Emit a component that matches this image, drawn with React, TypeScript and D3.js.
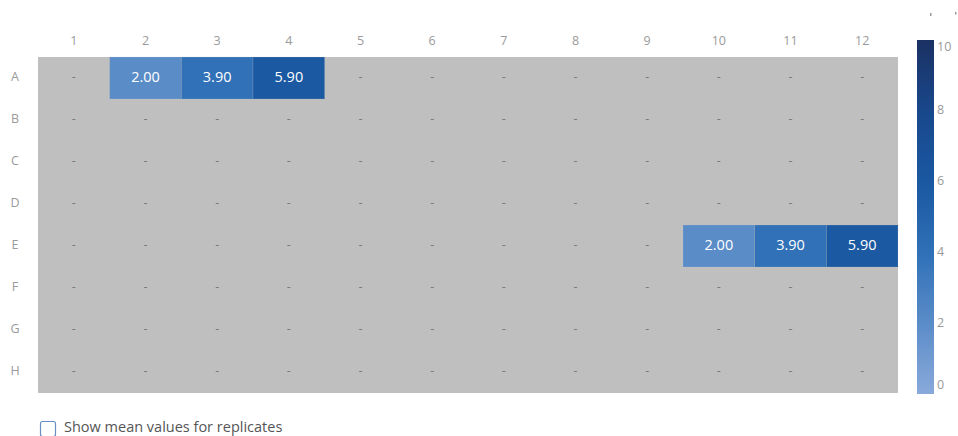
import React from "react";
import * as d3 from "d3";

const rows = ["A", "B", "C", "D", "E", "F", "G", "H"];
const cols = ["1", "2", "3", "4", "5", "6", "7", "8", "9", "10", "11", "12"];
// filled wells: [row, col, value]
const wellRows = ["A", "A", "A", "E", "E", "E"];
const wellCols = ["2", "3", "4", "10", "11", "12"];
const wellValues = [2.0, 3.9, 5.9, 2.0, 3.9, 5.9];
const legendTicks = [0, 2, 4, 6, 8, 10];
const colorStops = [0, 2, 4, 6, 8, 10];
const colorRange = ["#89a9da", "#5a8cc8", "#2f70b6", "#1a58a1", "#18478b", "#1b3163"];

const W = 958;
const H = 436;
const FONT = "'Open Sans', Lato, sans-serif";

export default function App() {
  const x = d3.scaleBand<string>().domain(cols).range([38, 898]).padding(0);
  const y = d3.scaleBand<string>().domain(rows).range([57, 393]).padding(0);
  const color = d3.scaleLinear<string>().domain(colorStops).range(colorRange);
  const lg = d3.scaleLinear().domain([0, 10]).range([394, 40]);
  const lgX = 917;
  const lgW = 17;

  const wellMap = new Map<string, number>();
  wellRows.forEach((r, i) => wellMap.set(r + wellCols[i], wellValues[i]));

  const gradStops = d3.range(0, 10.01, 0.5);

  return (
    <div style={{ position: "absolute", left: 0, top: 0 }}>
      <svg width={W} height={H} style={{ display: "block", fontFamily: FONT }}>
        <defs>
          <linearGradient id="lg" x1="0" y1="1" x2="0" y2="0">
            {gradStops.map((v) => (
              <stop key={v} offset={v / 10} stopColor={color(v)} />
            ))}
          </linearGradient>
        </defs>
        <rect x={0} y={0} width={W} height={H} fill="#fff" />
        {/* tiny marks top right */}
        <rect x={930} y={13} width={1.5} height={3} fill="#9a9a9a" />
        <rect x={955} y={12} width={1.5} height={2.5} fill="#9a9a9a" />

        {/* background */}
        <rect x={38} y={57} width={860} height={336} fill="#bfbfbf" />

        {/* column labels */}
        {cols.map((c) => (
          <text
            key={c}
            x={x(c)! + x.bandwidth() / 2}
            y={42}
            textAnchor="middle"
            dominantBaseline="middle"
            fontSize={12.5}
            fill="#9a9a9a"
          >
            {c}
          </text>
        ))}
        {/* row labels */}
        {rows.map((r) => (
          <text
            key={r}
            x={15}
            y={y(r)! + y.bandwidth() / 2}
            textAnchor="middle"
            dominantBaseline="middle"
            fontSize={12.5}
            fill="#9a9a9a"
          >
            {r}
          </text>
        ))}

        {/* cells */}
        {rows.map((r) =>
          cols.map((c) => {
            const v = wellMap.get(r + c);
            const cx = x(c)! + x.bandwidth() / 2;
            const cy = y(r)! + y.bandwidth() / 2;
            if (v === undefined) {
              return (
                <text
                  key={r + c}
                  x={cx}
                  y={cy}
                  textAnchor="middle"
                  dominantBaseline="middle"
                  fontSize={12.5}
                  fill="#7a7a7a"
                >
                  -
                </text>
              );
            }
            return (
              <g key={r + c}>
                <rect
                  x={x(c)!}
                  y={y(r)!}
                  width={x.bandwidth()}
                  height={y.bandwidth()}
                  fill={color(v)}
                  stroke="#bfbfbf"
                  strokeWidth={0.5}
                  strokeOpacity={0.4}
                />
                <text
                  x={cx}
                  y={cy}
                  textAnchor="middle"
                  dominantBaseline="middle"
                  fontSize={14.5}
                  fill="#ffffff"
                >
                  {v.toFixed(2)}
                </text>
              </g>
            );
          })
        )}

        {/* legend */}
        <rect x={lgX} y={lg(10)} width={lgW} height={lg(0) - lg(10)} fill="url(#lg)" />
        {legendTicks.map((t) => {
          const ty = Math.min(Math.max(lg(t), lg(10) + 8), lg(0) - 8);
          return (
            <text
              key={t}
              x={lgX + lgW + 3}
              y={ty}
              dominantBaseline="middle"
              fontSize={12.5}
              fill="#9a9a9a"
            >
              {t}
            </text>
          );
        })}

        {/* checkbox */}
        <rect x={40.5} y={421.5} width={15} height={15} rx={2} fill="#fff" stroke="#6a8fc4" strokeWidth={1.2} />
        <text x={64} y={432} fontSize={14.5} fill="#555">
          Show mean values for replicates
        </text>
      </svg>
    </div>
  );
}
